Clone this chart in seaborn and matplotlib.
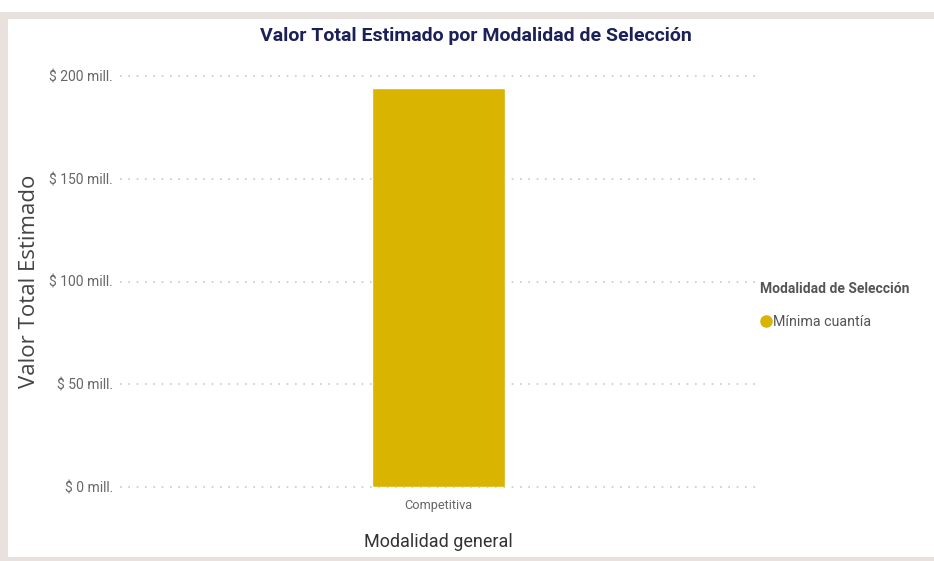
import matplotlib
matplotlib.use("Agg")
import matplotlib.pyplot as plt
from matplotlib.patches import Rectangle
from matplotlib.lines import Line2D
from matplotlib.ticker import FixedLocator, FuncFormatter
import seaborn as sns
import pandas as pd

# ---- data ----
categories = ["Competitiva"]
series_names = ["Mínima cuantía"]
values_mill = [194.2]
y_ticks = [0, 50, 100, 150, 200]

bar_color = "#D9B400"

sns.set_theme(style="white")
plt.rcParams["font.family"] = ["Roboto", "DejaVu Sans"]

W, H = 934, 561
fig = plt.figure(figsize=(W / 100, H / 100), dpi=100, facecolor="white")

# outer frame
fig.patches.append(Rectangle((0, 0), 1, (H - 12) / H, transform=fig.transFigure,
                             facecolor="#E8E1DE", edgecolor="none", zorder=-10))
fig.patches.append(Rectangle((8 / W, 4 / H), 1, (H - 19 - 4) / H, transform=fig.transFigure,
                             facecolor="white", edgecolor="none", zorder=-9))

ax_left, ax_right = 120, 757
ax_bottom, ax_top = 487, 76
ax = fig.add_axes([ax_left / W, (H - ax_bottom) / H, (ax_right - ax_left) / W, (ax_bottom - ax_top) / H])
ax.set_facecolor("none")

df = pd.DataFrame({"Modalidad general": categories,
                   "Valor": values_mill,
                   "Modalidad de Selección": series_names})
sns.barplot(data=df, x="Modalidad general", y="Valor", color=bar_color,
            width=0.21, ax=ax, saturation=1, zorder=3)

ax.set_xlim(-0.5, 0.5)
ax.set_ylim(0, 200)
ax.yaxis.set_major_locator(FixedLocator(y_ticks))
ax.yaxis.set_major_formatter(FuncFormatter(lambda v, p: f"$ {v:.0f} mill."))
for s in ax.spines.values():
    s.set_visible(False)
ax.grid(axis="y", color="#C8C8C8", linestyle=(0, (1, 4)), linewidth=1.2, zorder=0)
ax.grid(axis="x", visible=False)
ax.set_axisbelow(True)
for gl in ax.get_ygridlines():
    gl.set_clip_on(False)

ax.tick_params(axis="y", length=0, pad=5, labelsize=10, labelcolor="#666666")
ax.tick_params(axis="x", length=0, pad=9, labelsize=9.2, labelcolor="#666666")

ax.set_xlabel("Modalidad general", fontsize=13, color="#333333", labelpad=15)
ax.set_ylabel("")
fig.text(30 / W, 1 - 281 / H, "Valor Total Estimado", rotation=90, ha="center", va="center",
         fontsize=16, color="#444444", family=["Open Sans", "DejaVu Sans"])

fig.text(476 / W, 1 - 36 / H, "Valor Total Estimado por Modalidad de Selección",
         ha="center", va="center", fontsize=14, fontweight="bold", color="#1B2057")

# legend
fig.text(760 / W, 1 - 289 / H, "Modalidad de Selección", ha="left", va="center",
         fontsize=10, fontweight="bold", color="#555555")
handles = [Line2D([], [], marker="o", linestyle="none", markersize=8,
                  markerfacecolor=bar_color, markeredgecolor=bar_color)]
leg = fig.legend(handles, series_names, loc="center left",
                 bbox_to_anchor=(757 / W, 1 - 322 / H), frameon=False,
                 handletextpad=-0.1, handlelength=1.2, borderpad=0, borderaxespad=0,
                 prop={"size": 10.3})
for t in leg.get_texts():
    t.set_color("#555555")

fig.savefig("out.png", dpi=100, facecolor="white")
